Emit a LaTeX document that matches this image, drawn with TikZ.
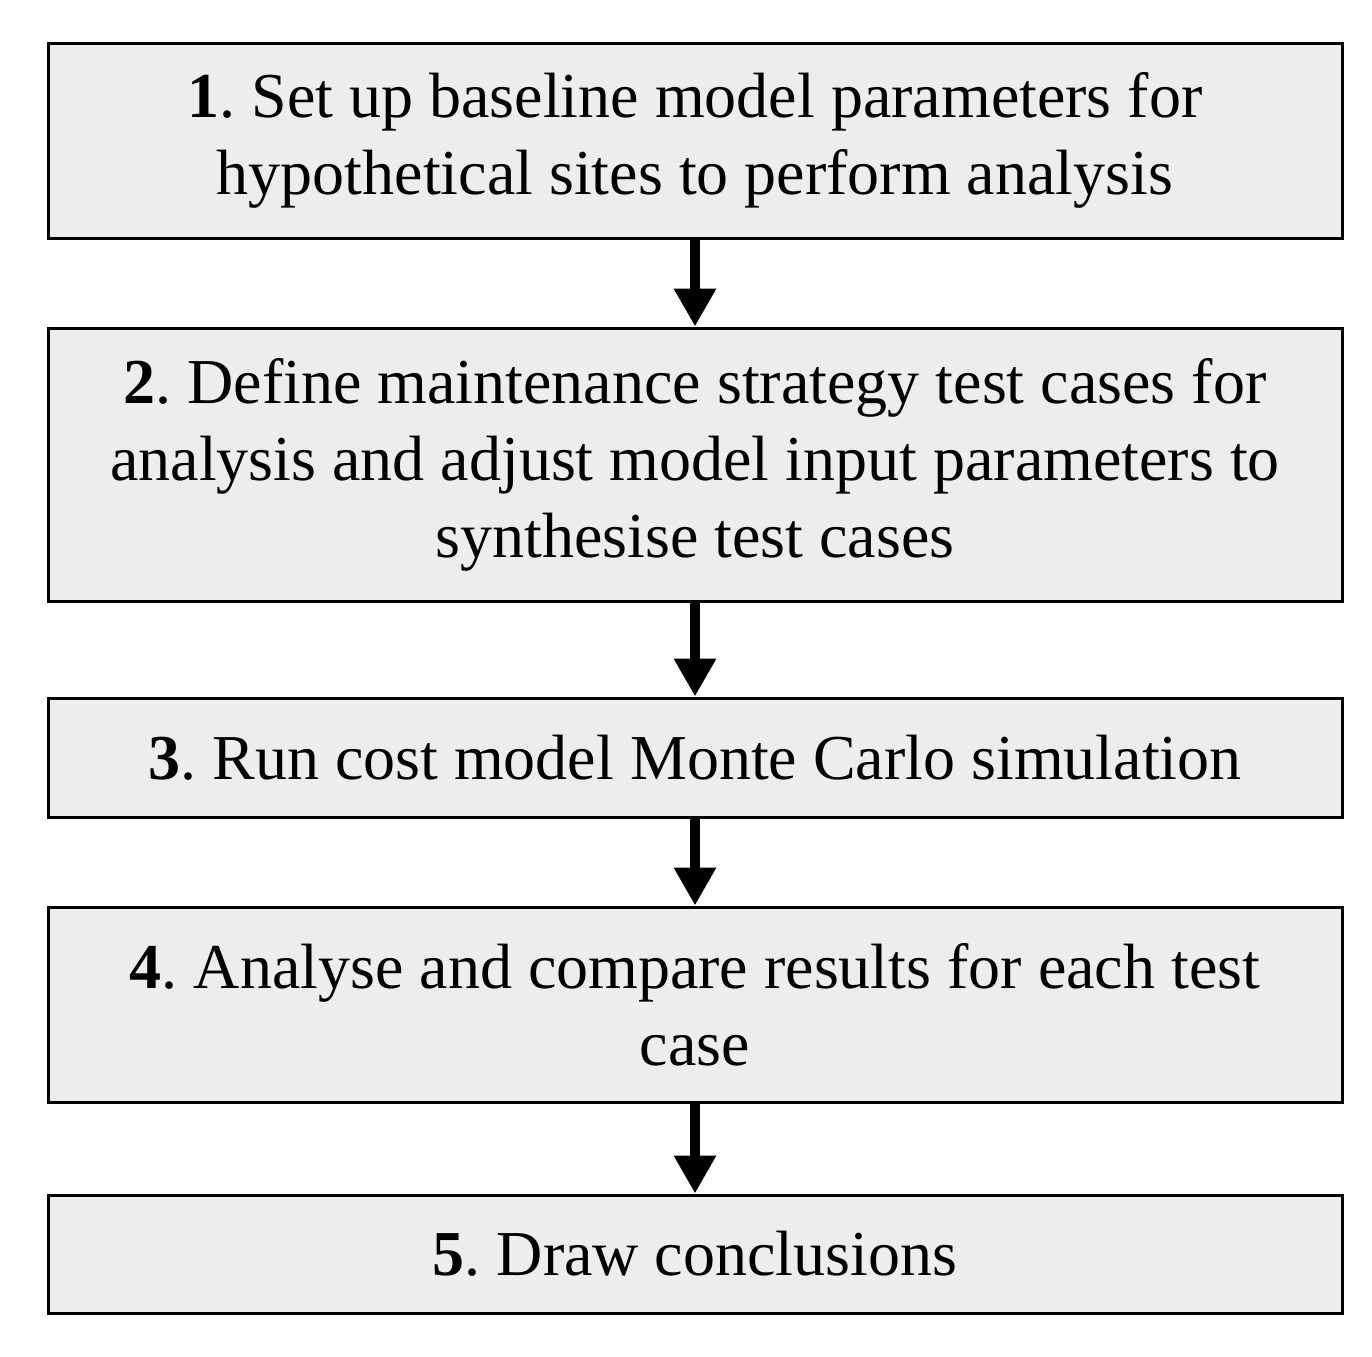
\documentclass[tikz,border=0pt]{standalone}
\usepackage{fontspec}
\setmainfont{Liberation Serif}
\usetikzlibrary{arrows.meta}
\begin{document}
\frenchspacing
\begin{tikzpicture}[x=0.5pt,y=-0.5pt,
  box/.style={draw,line width=1.5pt,fill=black!7,minimum width=647pt,inner sep=0pt,
    align=center,font=\fontsize{32}{38.5}\selectfont},
  arr/.style={line width=5pt,-{Triangle[width=20pt,length=19pt]}}]
\useasboundingbox (0,0) rectangle (1372,1356);
\node[box,minimum height=97.5pt] (b1) at (695,140.5) {\textbf{1}. Set up baseline model parameters for\\hypothetical sites to perform analysis};
\node[box,minimum height=136.5pt] (b2) at (695,464.5) {\textbf{2}. Define maintenance strategy test cases for\\analysis and adjust model input parameters to\\synthesise test cases};
\node[box,minimum height=59.5pt] (b3) at (695,757.5) {\textbf{3}. Run cost model Monte Carlo simulation};
\node[box,minimum height=97.5pt] (b4) at (695,1004.5) {\textbf{4}. Analyse and compare results for each test\\case};
\node[box,minimum height=59pt] (b5) at (695,1254) {\textbf{5}. Draw conclusions};
\draw[arr] (b1.south) -- (b2.north);
\draw[arr] (b2.south) -- (b3.north);
\draw[arr] (b3.south) -- (b4.north);
\draw[arr] (b4.south) -- (b5.north);
\end{tikzpicture}
\end{document}
